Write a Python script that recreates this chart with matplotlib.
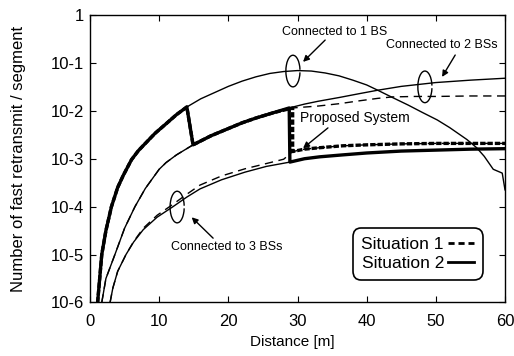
import numpy as np
import matplotlib
matplotlib.use("Agg")
import matplotlib.pyplot as plt
from matplotlib.patches import Arc
from matplotlib.lines import Line2D

plt.rcParams['font.family'] = ['Liberation Sans', 'DejaVu Sans']

# curves are given as log10(number of fast retransmit per segment)

# Connected to 1 BS (same for both situations)
d_1bs = np.array([1.1, 1.4, 1.7, 2.3, 3.1, 4.0, 4.8, 6.0, 7.0, 8.0, 9.4, 11.0, 12.5, 14.0, 16.0,
                  18.0, 20.0, 22.0, 24.0, 26.0, 28.0, 30.0, 32.0, 34.0, 36.0, 38.0, 40.0, 41.6,
                  43.7, 46.0, 48.0, 50.2, 52.0, 54.5, 55.9, 57.0, 58.3, 59.6, 60.0])
lg_1bs = np.array([-6.0, -5.5, -5.0, -4.5, -4.0, -3.6, -3.35, -3.02, -2.83, -2.68, -2.47, -2.27,
                   -2.08, -1.92, -1.75, -1.62, -1.49, -1.38, -1.29, -1.22, -1.18, -1.16, -1.17,
                   -1.21, -1.27, -1.36, -1.46, -1.57, -1.72, -1.88, -2.03, -2.19, -2.35, -2.60,
                   -2.77, -2.95, -3.22, -3.30, -3.65])

# Connected to 2 BSs
d_2bs_s2 = np.array([1.7, 2.3, 3.6, 5.0, 6.5, 8.0, 8.9, 10.0, 11.0, 12.5, 14.9, 17.5, 20.0, 22.0,
                     24.0, 26.5, 28.8, 31.0, 33.0, 36.1, 39.0, 41.6, 45.0, 50.0, 55.0, 60.0])
lg_2bs_s2 = np.array([-6.0, -5.5, -5.0, -4.45, -4.0, -3.62, -3.44, -3.22, -3.08, -2.92, -2.71,
                      -2.52, -2.37, -2.25, -2.15, -2.04, -1.94, -1.86, -1.80, -1.72, -1.64, -1.57,
                      -1.49, -1.41, -1.36, -1.32])
d_2bs_s1 = np.array([1.7, 2.3, 3.6, 5.0, 6.5, 8.0, 8.9, 10.0, 11.0, 12.5, 14.9, 17.5, 20.0, 22.0,
                     24.0, 26.5, 29.3, 33.0, 36.1, 39.0, 41.6, 43.7, 47.0, 50.0, 55.0, 60.0])
lg_2bs_s1 = np.array([-6.0, -5.5, -5.0, -4.45, -4.0, -3.62, -3.44, -3.22, -3.08, -2.92, -2.71,
                      -2.52, -2.37, -2.25, -2.15, -2.04, -1.94, -1.90, -1.85, -1.79, -1.74, -1.71,
                      -1.70, -1.70, -1.69, -1.69])

# Connected to 3 BSs
d_3bs_s2 = np.array([2.9, 3.3, 4.0, 5.2, 6.3, 7.7, 9.7, 12.0, 14.0, 15.9, 19.0, 22.4, 25.5, 28.9,
                     31.0, 33.2, 36.5, 40.0, 45.0, 50.0, 55.0, 60.0])
lg_3bs_s2 = np.array([-6.0, -5.7, -5.35, -5.0, -4.74, -4.48, -4.22, -4.0, -3.8, -3.63, -3.44,
                      -3.28, -3.16, -3.07, -3.0, -2.96, -2.92, -2.88, -2.84, -2.82, -2.80, -2.79])
d_3bs_s1 = np.array([2.9, 3.3, 4.0, 5.2, 6.3, 7.7, 9.7, 12.0, 14.0, 15.9, 19.0, 22.4, 25.5, 28.0,
                     29.3, 31.0, 33.2, 36.5, 40.0, 45.0, 50.0, 55.0, 60.0])
lg_3bs_s1 = np.array([-6.0, -5.7, -5.35, -5.0, -4.73, -4.45, -4.18, -3.95, -3.74, -3.55, -3.36,
                      -3.21, -3.10, -3.01, -2.85, -2.80, -2.77, -2.73, -2.71, -2.69, -2.68, -2.68,
                      -2.68])

# handover distances of the proposed system
ho_12 = (14.0, 14.9)
ho_23_s2 = (28.8, 28.9)
ho_23_s1 = (29.3, 29.3)


def proposed(d2, lg2, d3, lg3, ho23):
    m1 = d_1bs <= ho_12[0]
    m2 = (d2 >= ho_12[1]) & (d2 <= ho23[0])
    m3 = d3 >= ho23[1]
    d = np.concatenate([d_1bs[m1], d2[m2], d3[m3]])
    lg = np.concatenate([lg_1bs[m1], lg2[m2], lg3[m3]])
    return d, lg


d_prop_s2, lg_prop_s2 = proposed(d_2bs_s2, lg_2bs_s2, d_3bs_s2, lg_3bs_s2, ho_23_s2)
d_prop_s1, lg_prop_s1 = proposed(d_2bs_s1, lg_2bs_s1, d_3bs_s1, lg_3bs_s1, ho_23_s1)

fig = plt.figure(figsize=(5.14, 3.56), dpi=100)
ax = fig.add_axes([0.1751, 0.1503, 0.8074, 0.8076])

thin = 1.0
ax.plot(d_1bs, 10 ** lg_1bs, color='k', lw=thin)
ax.plot(d_2bs_s2, 10 ** lg_2bs_s2, color='k', lw=thin)
ax.plot(d_2bs_s1, 10 ** lg_2bs_s1, color='k', lw=thin, dashes=(6, 4))
ax.plot(d_3bs_s2, 10 ** lg_3bs_s2, color='k', lw=thin)
ax.plot(d_3bs_s1, 10 ** lg_3bs_s1, color='k', lw=thin, dashes=(6, 4))

ax.plot(d_prop_s1, 10 ** lg_prop_s1, color='k', lw=2.4, dashes=(1.6, 0.6))
ax.plot(d_prop_s2, 10 ** lg_prop_s2, color='k', lw=2.4)

ax.set_yscale('log')
ax.set_xlim(0, 60)
ax.set_ylim(1e-6, 1)
ax.set_xticks([0, 10, 20, 30, 40, 50, 60])
ax.set_yticks([1e-6, 1e-5, 1e-4, 1e-3, 1e-2, 1e-1, 1])
ax.set_yticklabels(['10-6', '10-5', '10-4', '10-3', '10-2', '10-1', '1'])
ax.yaxis.set_minor_locator(matplotlib.ticker.NullLocator())
ax.tick_params(direction='in', length=4, width=0.8, top=True, right=True, labelsize=12)
ax.tick_params(axis='x', pad=8)
ax.tick_params(axis='y', pad=4)
for s in ax.spines.values():
    s.set_linewidth(1.0)

ax.set_xlabel('Distance [m]', fontsize=11)
ax.set_ylabel('Number of fast retransmit / segment', fontsize=12)
ax.xaxis.set_label_coords(0.487, -0.112)
ax.yaxis.set_label_coords(-0.155, 0.5)

# annotations
arrow = dict(arrowstyle='-|>', lw=1, color='k', mutation_scale=9, shrinkA=0, shrinkB=0)
ax.text(35.4, 0.44, 'Connected to 1 BS', fontsize=9, ha='center', va='center')
ax.annotate('', xy=(30.8, 0.105), xytext=(34.0, 0.30), arrowprops=arrow)
ax.text(50.9, 0.236, 'Connected to 2 BSs', fontsize=9, ha='center', va='center')
ax.annotate('', xy=(50.9, 0.051), xytext=(52.8, 0.146), arrowprops=arrow)
ax.text(38.3, 7.0e-3, 'Proposed System', fontsize=10, ha='center', va='center')
ax.annotate('', xy=(30.8, 1.66e-3), xytext=(34.4, 4.4e-3), arrowprops=arrow)
ax.text(19.7, 1.45e-5, 'Connected to 3 BSs', fontsize=9, ha='center', va='center')
ax.annotate('', xy=(14.7, 6.0e-5), xytext=(17.8, 2.2e-5), arrowprops=arrow)

for cx, cy in [(0.489, 0.805), (0.807, 0.750), (0.210, 0.332)]:
    ax.add_patch(Arc((cx, cy), 0.034, 0.11, theta1=15, theta2=345, transform=ax.transAxes,
                     color='k', lw=1.0))

handles = [Line2D([], [], color='k', lw=2, dashes=(2.2, 1.4)),
           Line2D([], [], color='k', lw=2)]
leg = ax.legend(handles, ['Situation 1', 'Situation 2'], loc='upper right',
                bbox_to_anchor=(0.947, 0.259), fontsize=12.5, markerfirst=False,
                handlelength=1.5, handletextpad=0.25, labelspacing=0.22, borderpad=0.5,
                borderaxespad=0, fancybox=True, framealpha=1, edgecolor='k')
leg.get_frame().set_linewidth(1.2)
leg.get_frame().set_boxstyle('round,pad=0,rounding_size=0.5')

fig.savefig('out.png', dpi=100)
